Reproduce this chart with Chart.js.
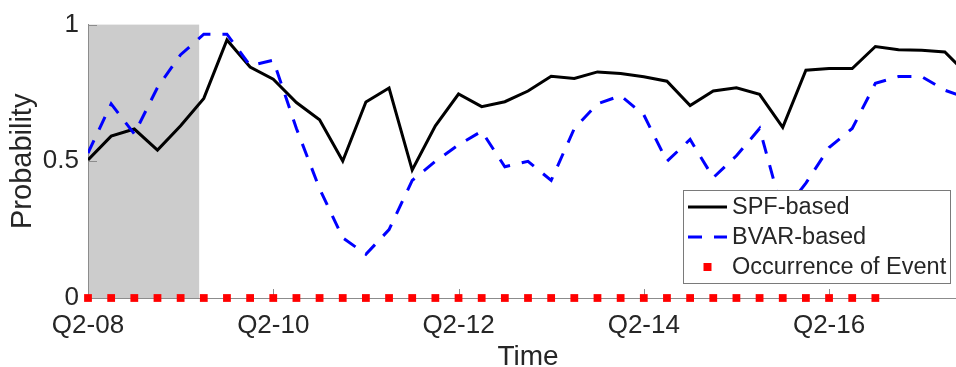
<!DOCTYPE html>
<html>
<head>
<meta charset="utf-8">
<script src="https://cdn.jsdelivr.net/npm/chart.js@4.4.0/dist/chart.umd.min.js"></script>
<style>
  html, body { margin: 0; padding: 0; background: #fff; overflow: hidden; }
  canvas { display: block; }
</style>
</head>
<body>
<!-- the axes run on to Q4-17, a little past the right edge of the window -->
<canvas id="myChart" width="968" height="367"></canvas>
<script>
// x is counted in quarters from Q2-08 (0) up to Q4-17 (38)
var tickQuarters = [0, 8, 16, 24, 32];
var tickLabels = ['Q2-08', 'Q2-10', 'Q2-12', 'Q2-14', 'Q2-16'];
var yTicks = [0, 0.5, 1];

var spfBased = [0.505, 0.592, 0.618, 0.541, 0.630, 0.730, 0.944, 0.845, 0.800, 0.715,
                0.652, 0.501, 0.717, 0.768, 0.468, 0.630, 0.746, 0.700, 0.718, 0.757,
                0.811, 0.803, 0.827, 0.821, 0.809, 0.793, 0.704, 0.757, 0.769, 0.745,
                0.624, 0.833, 0.839, 0.839, 0.920, 0.908, 0.906, 0.900, 0.815];

var bvarBased = [0.530, 0.710, 0.600, 0.770, 0.890, 0.965, 0.965, 0.850, 0.870, 0.620,
                 0.400, 0.220, 0.160, 0.250, 0.430, 0.500, 0.560, 0.610, 0.480, 0.500,
                 0.430, 0.620, 0.710, 0.740, 0.670, 0.500, 0.580, 0.440, 0.520, 0.620,
                 0.310, 0.420, 0.550, 0.620, 0.785, 0.810, 0.810, 0.760, 0.730];

var eventOccurred = [0, 0, 0, 0, 0, 0, 0, 0, 0, 0,
                     0, 0, 0, 0, 0, 0, 0, 0, 0, 0,
                     0, 0, 0, 0, 0, 0, 0, 0, 0, 0,
                     0, 0, 0, 0, 0];

// shaded recession span, in quarters
var recessionStart = 0;
var recessionEnd = 4.8;

var FONT = '"Liberation Sans", Arial, Helvetica, sans-serif';
var TEXT = '#262626';
var AXIS = '#8c8c8c';

function toPoints(values) {
    return values.map(function (v, i) { return {x: i, y: v}; });
}

// grey band behind everything
var shadePlugin = {
    id: 'shade',
    beforeDraw: function (chart) {
        var ctx = chart.ctx, x = chart.scales.x, y = chart.scales.y;
        var x0 = x.getPixelForValue(recessionStart), x1 = x.getPixelForValue(recessionEnd);
        var y0 = y.getPixelForValue(1), y1 = y.getPixelForValue(0);
        ctx.save();
        ctx.fillStyle = '#cccccc';
        ctx.fillRect(x0, y0, x1 - x0, y1 - y0);
        ctx.restore();
    }
};

// small inward tick marks, matlab style
var innerTicks = {
    id: 'innerTicks',
    beforeDatasetsDraw: function (chart) {
        var ctx = chart.ctx, x = chart.scales.x, y = chart.scales.y;
        var area = chart.chartArea, len = 9;
        ctx.save();
        ctx.strokeStyle = AXIS;
        ctx.lineWidth = 1;
        ctx.beginPath();
        tickQuarters.forEach(function (q) {
            var px = Math.round(x.getPixelForValue(q)) + 0.5;
            ctx.moveTo(px, area.bottom);
            ctx.lineTo(px, area.bottom - len);
        });
        yTicks.forEach(function (t) {
            var py = Math.round(y.getPixelForValue(t)) + 0.5;
            ctx.moveTo(area.left, py);
            ctx.lineTo(area.left + len, py);
        });
        ctx.stroke();
        ctx.restore();
    }
};

// boxed legend in the lower right corner of the axes
var boxLegend = {
    id: 'boxLegend',
    afterDatasetsDraw: function (chart) {
        var ctx = chart.ctx, area = chart.chartArea;
        var right = area.right - 18, bottom = area.bottom - 15;
        var left = right - 267, top = bottom - 93;
        ctx.save();
        ctx.fillStyle = '#fff';
        ctx.fillRect(left, top, right - left, bottom - top);
        ctx.strokeStyle = '#7a7a7a';
        ctx.lineWidth = 1;
        ctx.strokeRect(Math.round(left) + 0.5, Math.round(top) + 0.5, right - left, bottom - top);
        ctx.font = '23.5px ' + FONT;
        ctx.textBaseline = 'middle';
        chart.data.datasets.forEach(function (ds, i) {
            var cy = top + 17 + i * 30;
            var sx0 = left + 5, sx1 = left + 44;
            if (ds.showLine === false) {
                ctx.fillStyle = ds.pointBackgroundColor;
                ctx.fillRect((sx0 + sx1) / 2 - 4, cy - 4, 8, 8);
            } else {
                ctx.strokeStyle = ds.borderColor;
                ctx.lineWidth = ds.borderWidth;
                ctx.setLineDash(ds.borderDash || []);
                ctx.beginPath();
                ctx.moveTo(sx0, cy);
                ctx.lineTo(sx1, cy);
                ctx.stroke();
                ctx.setLineDash([]);
            }
            ctx.fillStyle = TEXT;
            ctx.fillText(ds.label, left + 49, cy + 1);
        });
        ctx.restore();
    }
};

var ctx = document.getElementById('myChart').getContext('2d');
var chart = new Chart(ctx, {
    type: 'line',
    data: {
        datasets: [{
            label: 'SPF-based',
            data: toPoints(spfBased),
            borderColor: '#000000',
            borderWidth: 3,
            pointRadius: 0,
            tension: 0,
            order: 2
        }, {
            label: 'BVAR-based',
            data: toPoints(bvarBased),
            borderColor: '#0000ff',
            borderWidth: 3,
            borderDash: [14, 12],
            pointRadius: 0,
            tension: 0,
            order: 1
        }, {
            label: 'Occurrence of Event',
            data: toPoints(eventOccurred),
            showLine: false,
            pointStyle: 'rect',
            pointRadius: 5.5,
            pointBorderWidth: 0,
            pointBackgroundColor: '#ff0000',
            pointBorderColor: '#ff0000',
            clip: false,
            order: 0
        }]
    },
    options: {
        responsive: false,
        animation: false,
        layout: {autoPadding: false, padding: {top: 22, right: 0, bottom: 0, left: 0}},
        plugins: {legend: {display: false}, tooltip: {enabled: false}},
        scales: {
            x: {
                type: 'linear',
                min: 0,
                max: 38,
                grid: {display: false, drawTicks: false},
                border: {display: true, color: AXIS, width: 1},
                afterBuildTicks: function (scale) {
                    scale.ticks = tickQuarters.map(function (q) { return {value: q}; });
                },
                ticks: {
                    autoSkip: false,
                    maxRotation: 0,
                    padding: 12,
                    color: TEXT,
                    font: {family: FONT, size: 26},
                    callback: function (v) { return tickLabels[tickQuarters.indexOf(v)]; }
                },
                title: {
                    display: true,
                    text: 'Time',
                    color: TEXT,
                    font: {family: FONT, size: 28, lineHeight: 0.7},
                    padding: 0
                },
                afterFit: function (scale) { scale.height = 69; }
            },
            y: {
                min: 0,
                max: 1,
                grid: {display: false, drawTicks: false},
                border: {display: true, color: AXIS, width: 1},
                afterBuildTicks: function (scale) {
                    scale.ticks = yTicks.map(function (t) { return {value: t}; });
                },
                ticks: {
                    padding: 9,
                    color: TEXT,
                    font: {family: FONT, size: 26},
                    callback: function (v) { return String(v); }
                },
                title: {
                    display: true,
                    text: 'Probability',
                    color: TEXT,
                    font: {family: FONT, size: 29, lineHeight: 1.2},
                    padding: {top: 6, bottom: 0}
                },
                afterFit: function (scale) { scale.width = 88; }
            }
        }
    },
    plugins: [shadePlugin, innerTicks, boxLegend]
});
</script>
</body>
</html>
